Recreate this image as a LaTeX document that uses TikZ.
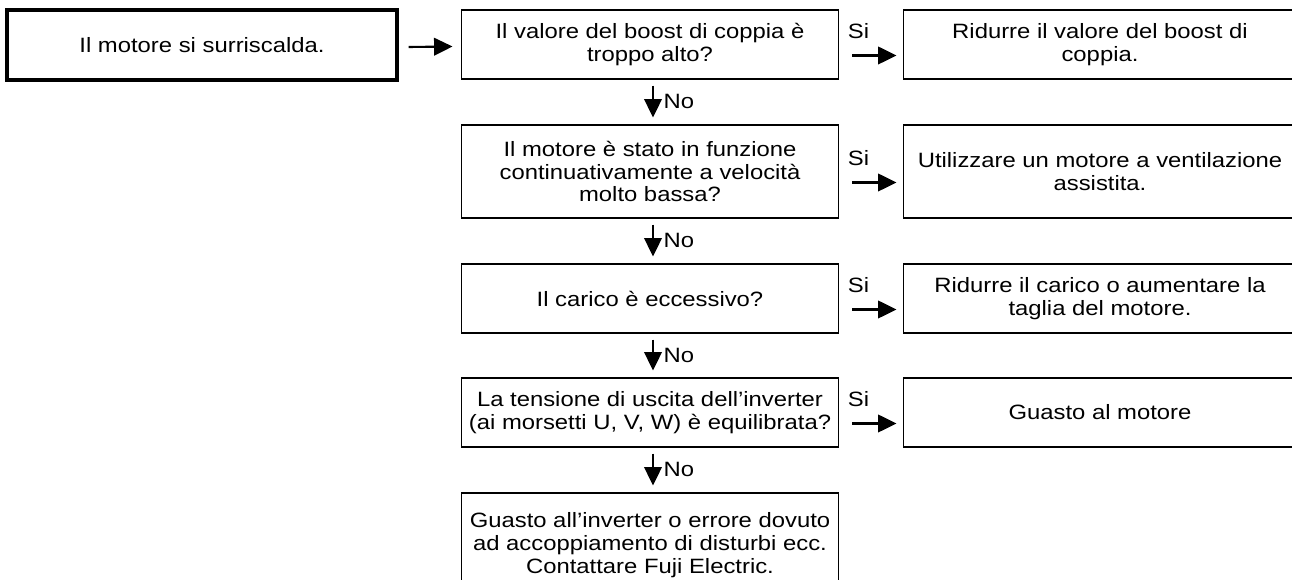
\documentclass[tikz,border=0pt]{standalone}
\usepackage{fontspec}
\setmainfont[FakeStretch=1.15]{Liberation Sans}
\usetikzlibrary{positioning,calc,arrows.meta}
\newcommand{\flowfont}{\fontsize{11.8}{12.9}\selectfont}
\tikzset{
  startbox/.style={draw,line width=2pt,minimum width=7.8cm,minimum height=1.4cm,align=center,font=\flowfont,inner sep=2pt},
  qbox/.style={draw,line width=0.6pt,minimum width=7.56cm,minimum height=1.38cm,align=center,font=\flowfont,inner sep=2pt},
  rbox/.style={draw,line width=0.6pt,minimum width=7.88cm,minimum height=1.38cm,align=center,font=\flowfont,inner sep=2pt},
  lbl/.style={font=\flowfont,inner sep=0pt},
  arr/.style={-{Triangle[length=10.5pt,width=10pt]},line width=1.2pt},
}

\begin{document}
\begin{tikzpicture}[x=0.02cm,y=-0.02cm]
  \useasboundingbox (0,0) rectangle (1292,580);
  \clip (0,0) rectangle (1292,580);
  % left column
  \node[startbox] (start) at (202,45) {Il motore si surriscalda.};
  % questions
  \node[qbox] (q1) at (650,44.5) {Il valore del boost di coppia è\\troppo alto?};
  \node[qbox,minimum height=1.86cm] (q2) at (650,171.5) {Il motore è stato in funzione\\continuativamente a velocità\\molto bassa?};
  \node[qbox] (q3) at (650,298.5) {Il carico è eccessivo?};
  \node[qbox] (q4) at (650,412.5) {La tensione di uscita dell’inverter\\(ai morsetti U, V, W) è equilibrata?};
  \node[qbox,minimum height=2.08cm] (q5) at (650,545) {Guasto all’inverter o errore dovuto\\ad accoppiamento di disturbi ecc.\\Contattare Fuji Electric.};
  % remedies
  \node[rbox] (r1) at (1100,44.5) {Ridurre il valore del boost di\\coppia.};
  \node[rbox,minimum height=1.86cm] (r2) at (1100,171.5) {Utilizzare un motore a ventilazione\\assistita.};
  \node[rbox] (r3) at (1100,298.5) {Ridurre il carico o aumentare la\\taglia del motore.};
  \node[rbox] (r4) at (1100,412.5) {Guasto al motore};

  \draw[arr] ($(start.east)+(10,2)$) -- ($(q1.west)+(-8,2)$);
  \foreach \a/\b in {q1/r1,q2/r2,q3/r3,q4/r4}{
    \draw[arr] ($(\a.east)+(13,11)$) -- ($(\b.west)+(-6,11)$);
    \node[lbl,anchor=west] (si\a) at ($(\a.east)+(8,-13)$) {Si};
  }
  \foreach \a/\b in {q1/q2,q2/q3,q3/q4,q4/q5}{
    \draw[arr] ($(\a.south)+(3,6)$) -- ($(\b.north)+(3,-7)$)
      node[lbl,midway,anchor=west,xshift=5.5pt] (no\a) {No};
  }
\end{tikzpicture}
\end{document}
